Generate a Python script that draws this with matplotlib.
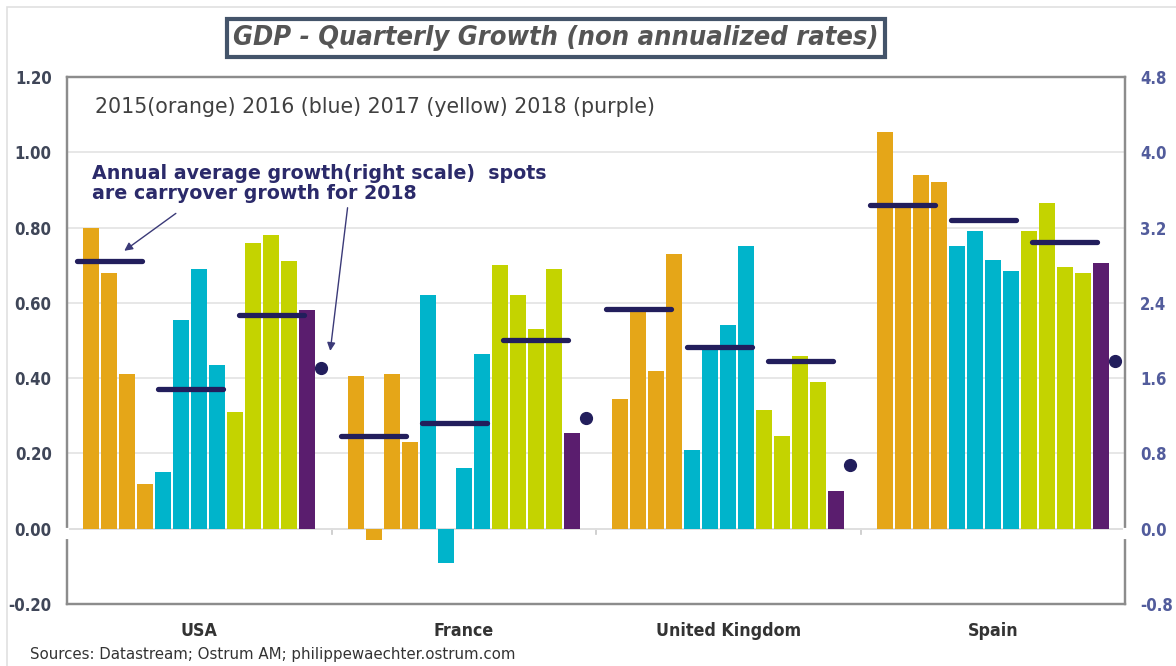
import numpy as np
import matplotlib
matplotlib.use("Agg")
import matplotlib.pyplot as plt
from matplotlib.patches import Rectangle

# --- data ---
countries = ["USA", "France", "United Kingdom", "Spain"]
# 13 quarters per country: 2015 Q1-Q4, 2016 Q1-Q4, 2017 Q1-Q4, 2018 Q1 (left scale, %)
usa_q = [0.80, 0.68, 0.41, 0.12, 0.15, 0.555, 0.69, 0.435, 0.31, 0.76, 0.78, 0.71, 0.58]
france_q = [0.405, -0.03, 0.41, 0.23, 0.62, -0.09, 0.16, 0.465, 0.70, 0.62, 0.53, 0.69, 0.255]
uk_q = [0.345, 0.58, 0.42, 0.73, 0.21, 0.48, 0.54, 0.75, 0.315, 0.245, 0.46, 0.39, 0.10]
spain_q = [1.055, 0.86, 0.94, 0.92, 0.75, 0.79, 0.715, 0.685, 0.79, 0.865, 0.695, 0.68, 0.705]
# annual averages and 2018 carryover (right scale, %)
avg_2015 = [2.85, 0.98, 2.33, 3.44]
avg_2016 = [1.48, 1.12, 1.93, 3.28]
avg_2017 = [2.27, 2.01, 1.78, 3.05]
carryover_2018 = [1.71, 1.18, 0.68, 1.78]

left_ticks = [-0.20, 0.00, 0.20, 0.40, 0.60, 0.80, 1.00, 1.20]
right_ticks = [-0.8, 0.0, 0.8, 1.6, 2.4, 3.2, 4.0, 4.8]

ORANGE, BLUE, YELLOW, PURPLE = "#E5A618", "#00B4CB", "#C4D300", "#5A1D6E"
NAVY = "#221E5C"
bar_colors = [ORANGE] * 4 + [BLUE] * 4 + [YELLOW] * 4 + [PURPLE]

NARROW = ["Liberation Sans Narrow", "DejaVu Sans"]

fig = plt.figure(figsize=(11.76, 6.66), dpi=100)
ax = fig.add_axes([67 / 1176, 1 - 604 / 666, (1125 - 67) / 1176, (604 - 77) / 666])
ax2 = ax.twinx()

slot = 18 / 264.5
width = 16.3 / 264.5
offsets = (np.arange(13) - 6) * slot

for i, vals in enumerate([usa_q, france_q, uk_q, spain_q]):
    ax.bar(i + offsets, vals, width=width, color=bar_colors, zorder=2)

# annual average dashes and carryover spots on the right scale
line_off = np.array([-5.0, -0.5, 4.0]) * slot
half = 1.8 * slot
for i in range(len(countries)):
    for k, avg in enumerate([avg_2015, avg_2016, avg_2017]):
        cx = i + line_off[k]
        ax2.plot([cx - half, cx + half], [avg[i], avg[i]], color=NAVY,
                 lw=3.8, solid_capstyle="round")
    ax2.plot(i + 6.78 * slot, carryover_2018[i], "o", color=NAVY, ms=8.5)

ax.set_xlim(-0.5, 3.5)
ax.set_ylim(-0.2, 1.2)
ax2.set_ylim(-0.8, 4.8)
ax.set_yticks(left_ticks)
ax.set_yticklabels([f"{t:.2f}" for t in left_ticks])
ax2.set_yticks(right_ticks)
ax2.set_yticklabels([f"{t:.1f}" for t in right_ticks])
ax.grid(axis="y", color="#E3E3E3", lw=1.2, zorder=0)
ax.axhline(0, color="#C8C8C8", lw=1.2, zorder=1)
for b in np.arange(0.5, 3.5, 1.0):
    ax.plot([b, b], [0, -0.015], color="#C8C8C8", lw=1.2, zorder=1)

ax.set_xticks(range(len(countries)))
ax.set_xticklabels(countries)
ax.tick_params(axis="x", length=0, pad=13, labelcolor="#333333")
ax.tick_params(axis="y", length=0, pad=11, labelcolor="#3F4658")
ax2.tick_params(axis="y", length=0, pad=11, labelcolor="#525C9C")
for lab in ax.get_xticklabels():
    lab.set_fontfamily(NARROW)
    lab.set_fontsize(12.8)
    lab.set_fontweight("bold")
    lab.set_fontstretch("condensed")
for lab in ax.get_yticklabels() + ax2.get_yticklabels():
    lab.set_fontfamily(NARROW)
    lab.set_fontsize(12)
    lab.set_fontweight("bold")
    lab.set_fontstretch("condensed")
for a in (ax, ax2):
    for s in a.spines.values():
        s.set_color("#8C8C8C")
        s.set_linewidth(1.6)
# small break in the side frames just below zero, as in the original
for xb in (-0.5, 3.5):
    ax2.plot([xb, xb], [-0.01, -0.085], color="white", lw=3, clip_on=False, zorder=5)

# texts inside the plot
ax.text(-0.394, 1.12, "2015(orange) 2016 (blue) 2017 (yellow) 2018 (purple)",
        fontsize=14.8, color="#404040", va="center", ha="left")
ax.text(-0.405, 0.918, "Annual average growth(right scale)  spots\nare carryover growth for 2018",
        fontsize=13.7, fontweight="bold", color="#2B2A6A", va="center", ha="left",
        linespacing=1.05)
ax.annotate("", xy=(-0.292, 0.734), xytext=(-0.08, 0.842),
            arrowprops=dict(arrowstyle="-|>", color="#3B3A78", lw=1, mutation_scale=12))
ax.annotate("", xy=(0.494, 0.465), xytext=(0.562, 0.86),
            arrowprops=dict(arrowstyle="-|>", color="#3B3A78", lw=1, mutation_scale=12))

# title box
fig.text(556 / 1176, 1 - 38 / 666, "GDP - Quarterly Growth (non annualized rates)",
         fontsize=19.5, style="italic", fontweight="bold", color="#555555", family=NARROW,
         fontstretch="condensed", ha="center", va="center",
         bbox=dict(boxstyle="square,pad=0.22", fc="white", ec="#44546A", lw=3))

fig.text(30 / 1176, 1 - 655 / 666, "Sources: Datastream; Ostrum AM; philippewaechter.ostrum.com",
         fontsize=10.8, color="#333333", family=NARROW, va="center", ha="left")

# light outer frame (top and left edges)
fig.patches.append(Rectangle((7 / 1176, -0.1), 1.2, 1.1 - 7 / 666, transform=fig.transFigure,
                             fill=False, ec="#E0E0E0", lw=1.2))

fig.savefig("out.png", dpi=100)
